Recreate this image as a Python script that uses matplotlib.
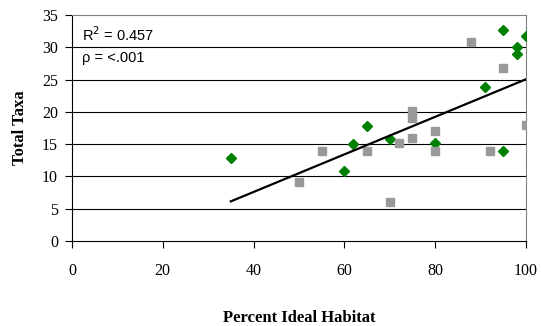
import numpy as np
import matplotlib
matplotlib.use('Agg')
import matplotlib.pyplot as plt

# site data: percent ideal habitat vs total taxa, two site groups
green_x = [35, 60, 62, 65, 70, 80, 91, 95, 95, 98, 98, 100]
green_y = [12.8, 10.9, 15, 17.8, 15.8, 15.2, 23.8, 32.7, 13.9, 30, 28.9, 31.7]

grey_x = [50, 55, 65, 70, 72, 75, 75, 75, 80, 80, 88, 92, 95, 100]
grey_y = [9.1, 14, 14, 6, 15.1, 20.2, 19.1, 15.9, 17, 14, 30.8, 14, 26.8, 18]

x_ticks = [0, 20, 40, 60, 80, 100]
y_ticks = [0, 5, 10, 15, 20, 25, 30, 35]

serif = ['Liberation Serif', 'DejaVu Serif']
sans = ['Liberation Sans', 'DejaVu Sans']

fig = plt.figure(figsize=(5.41, 3.26), dpi=100)
ax = fig.add_axes([0.133, 0.261, 0.839, 0.693])

# horizontal grid lines
for yv in y_ticks[1:-1]:
    ax.axhline(yv, color='black', lw=0.8, zorder=1)

ax.plot(green_x, green_y, 'D', color='#008000', ms=5.2, mec='#008000', zorder=3)
ax.plot(grey_x, grey_y, 's', color='#999999', ms=6, mec='#999999', zorder=4)

# linear trend line over all sites
all_x = np.array(green_x + grey_x, dtype=float)
all_y = np.array(green_y + grey_y, dtype=float)
slope, intercept = np.polyfit(all_x, all_y, 1)
xs = np.array([all_x.min(), all_x.max()])
ax.plot(xs, slope * xs + intercept, color='black', lw=1.6, zorder=5)

ax.set_xlim(0, 100)
ax.set_ylim(0, 35)
ax.set_xticks(x_ticks)
ax.set_yticks(y_ticks)
ax.tick_params(direction='out', length=5, width=0.8, color='black')
for lab in ax.get_xticklabels() + ax.get_yticklabels():
    lab.set_family(serif)
    lab.set_fontsize(11.5)
ax.tick_params(axis='x', pad=11)
ax.tick_params(axis='y', pad=5)

ax.spines['left'].set_color('black')
ax.spines['bottom'].set_color('black')
ax.spines['top'].set_color('#808080')
ax.spines['right'].set_color('#808080')
for s in ax.spines.values():
    s.set_linewidth(0.8)

ax.set_xlabel('Percent Ideal Habitat', family=serif, fontsize=12, fontweight='bold', labelpad=22)
ax.set_ylabel('Total Taxa', family=serif, fontsize=12, fontweight='bold', labelpad=10)

ax.text(2.3, 32.0, 'R$^2$ = 0.457', family=sans, fontsize=10.5, va='center', ha='left', zorder=6)
ax.text(2.3, 28.3, '\u03c1 = <.001', family=sans, fontsize=10.5, va='center', ha='left', zorder=6)

fig.savefig('out.png', dpi=100)
